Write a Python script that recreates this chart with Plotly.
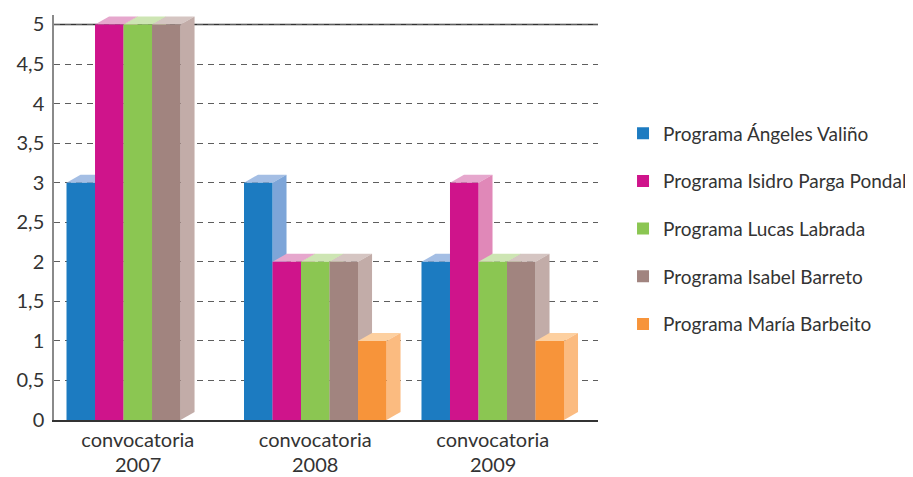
import plotly.graph_objects as go

# ---- data ----
call_word = "convocatoria"
years = ["2007", "2008", "2009"]
categories = [f"{call_word} {y}" for y in years]
series_names = [
    "Programa Ángeles Valiño",
    "Programa Isidro Parga Pondal",
    "Programa Lucas Labrada",
    "Programa Isabel Barreto",
    "Programa María Barbeito",
]
angeles_valino = [3, 3, 2]
isidro_parga_pondal = [5, 2, 3]
lucas_labrada = [5, 2, 2]
isabel_barreto = [5, 2, 2]
maria_barbeito = [None, 1, 1]
y_tickvals = [0, 0.5, 1, 1.5, 2, 2.5, 3, 3.5, 4, 4.5, 5]
y_ticktext = ["0", "0,5", "1", "1,5", "2", "2,5", "3", "3,5", "4", "4,5", "5"]

series_values = [angeles_valino, isidro_parga_pondal, lucas_labrada, isabel_barreto, maria_barbeito]

# ---- styles ----
front_colors = ["#1C7BC1", "#CF148B", "#8BC652", "#A1847F", "#F7943A"]
top_colors = ["#A4BEE4", "#E6A7CD", "#CDE5B3", "#D5C5C2", "#FDD0A0"]
side_colors = ["#7DA5D8", "#E088B8", "#B3D88F", "#C2ACA8", "#FBBB80"]

BARGAP = 0.197
N = len(series_names)
BAR_W = (1 - BARGAP) / N
DX = 0.079   # depth offset in category units
DY = 0.101   # depth offset in y units

FONT = "Lato"
TXT = "#333333"

fig = go.Figure()
for i, (name, vals) in enumerate(zip(series_names, series_values)):
    fig.add_trace(go.Bar(
        x=categories, y=vals, name=name, legendgroup=name,
        marker=dict(color=front_colors[i], line=dict(width=0)),
        hoverinfo="x+y+name",
    ))

shapes = [
    dict(type="line", xref="paper", yref="y", x0=0, x1=1, y0=5, y1=5,
         line=dict(color="#333333", width=1.5), layer="between"),
]
for c in range(len(categories)):
    for i in range(N):
        v = series_values[i][c]
        if not v:
            continue
        x0 = c - (1 - BARGAP) / 2 + i * BAR_W
        x1 = x0 + BAR_W
        top_path = (f"M {x0},{v} L {x1},{v} L {x1 + DX},{v + DY} "
                    f"L {x0 + DX},{v + DY} Z")
        side_path = (f"M {x1},0 L {x1 + DX},{DY} L {x1 + DX},{v + DY} "
                     f"L {x1},{v} Z")
        shapes.append(dict(type="path", xref="x", yref="y", path=top_path,
                           fillcolor=top_colors[i], line=dict(width=0),
                           layer="between"))
        shapes.append(dict(type="path", xref="x", yref="y", path=side_path,
                           fillcolor=side_colors[i], line=dict(width=0),
                           layer="between"))

# second line of each category label (year)
annotations = [
    dict(text=y, x=cat, xref="x", y=0, yref="paper", yanchor="top",
         xanchor="center", yshift=-31, showarrow=False, borderpad=0,
         font=dict(family=FONT, size=20, color=TXT))
    for y, cat in zip(years, categories)
]

fig.update_layout(
    width=905, height=469,
    margin=dict(l=46, r=315, t=6.5, b=57, autoexpand=False),
    paper_bgcolor="white", plot_bgcolor="white",
    barmode="group", bargap=BARGAP, bargroupgap=0,
    font=dict(family=FONT, color=TXT),
    shapes=shapes,
    annotations=annotations,
    showlegend=True,
    legend=dict(
        x=1.046, y=0.472, xanchor="left", yanchor="middle",
        font=dict(family=FONT, size=19, color=TXT),
        tracegroupgap=20, traceorder="grouped",
        bgcolor="rgba(0,0,0,0)",
    ),
    xaxis=dict(
        type="category",
        range=[-0.472, 2.593],
        tickvals=categories, ticktext=[call_word] * len(categories),
        showline=True, linecolor="#333333", linewidth=1.5,
        showgrid=False, zeroline=False, ticks="", automargin=False,
        ticklabelstandoff=1,
        tickfont=dict(family=FONT, size=20, color=TXT),
    ),
    yaxis=dict(
        range=[0, 5.12],
        tickvals=y_tickvals, ticktext=y_ticktext,
        showline=True, linecolor="#8a8a8a", linewidth=1.5,
        showgrid=True, gridcolor="#5e5e5e", gridwidth=1, griddash="6px,5px",
        zeroline=False, ticks="", ticklabelstandoff=4, automargin=False,
        tickfont=dict(family=FONT, size=20, color=TXT),
    ),
)

fig.write_html("out.html")
